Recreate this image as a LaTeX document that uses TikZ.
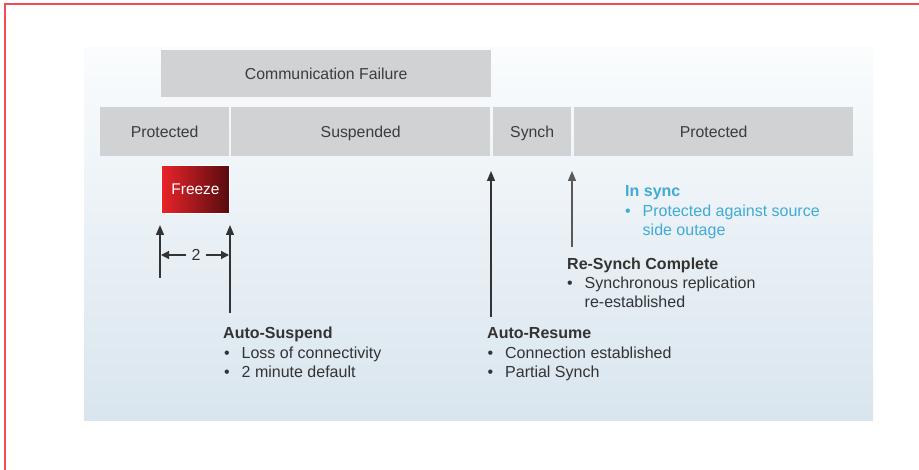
\documentclass[tikz,border=0pt]{standalone}
\usepackage{fontspec}
\setmainfont{Liberation Sans}
\usetikzlibrary{arrows.meta}
\definecolor{cellgray}{HTML}{D1D2D4}
\definecolor{celltext}{HTML}{3C3C3C}
\definecolor{bodytext}{HTML}{333333}
\definecolor{syncblue}{HTML}{3FABD6}
\definecolor{frameRed}{HTML}{F04E52}
\definecolor{panelTop}{HTML}{FAFCFD}
\definecolor{panelBot}{HTML}{D9E5EE}
\definecolor{freezeL}{HTML}{E9242A}
\definecolor{freezeR}{HTML}{560B0F}
\definecolor{arrowGray}{HTML}{333333}
\tikzset{
  txt/.style={inner sep=0pt, anchor=base west, text=bodytext, font=\fontsize{16}{19}\selectfont},
  head/.style={txt, font=\fontsize{16}{19}\selectfont\bfseries},
  cell/.style={fill=cellgray, draw=none, inner sep=0pt, anchor=north west, text=celltext,
    font=\fontsize{15.8}{18}\selectfont, text height=11pt, text depth=0pt},
  arr/.style={draw=arrowGray, line width=1.3pt, -{Triangle[width=8pt,length=10pt]}},
  smallarr/.style={draw=arrowGray, line width=1.2pt, -{Triangle[width=8pt,length=8pt]}}
}
\newcommand{\bult}{\makebox[17.5pt][l]{•}}
\begin{document}
\begin{tikzpicture}[x=1pt,y=-1pt]
\useasboundingbox (0,0) rectangle (919,470);
\fill[white] (0,0) rectangle (919,470);
% red frame
\draw[frameRed, line width=1.2pt] (5,470) -- (5,4) -- (919,4);
% panel
\shade[top color=panelTop, bottom color=panelBot] (84,48) rectangle (873,421);
% header
\node[cell, minimum width=330pt, minimum height=47pt] (cf) at (161,50) {Communication Failure};
% state row
\node[cell, minimum width=129pt, minimum height=49pt] (p1) at (100,107) {Protected};
\node[cell, minimum width=259pt, minimum height=49pt] (susp) at (231,107) {Suspended};
\node[cell, minimum width=78pt, minimum height=49pt] (syn) at (493,107) {Synch};
\node[cell, minimum width=279pt, minimum height=49pt] (p2) at (574,107) {Protected};
% freeze
\node[draw=white, line width=1pt, left color=freezeL, right color=freezeR, anchor=north west,
  minimum width=68pt, minimum height=48pt, inner sep=0pt, text=white,
  font=\fontsize{15.5}{18}\selectfont, text height=11pt, text depth=0pt] (frz) at (161,165) {Freeze};
% arrows
\coordinate (a1s) at (160,278); \coordinate (a1e) at (160,225);
\coordinate (a2s) at (230,313); \coordinate (a2e) at (230,225);
\coordinate (a3s) at (491,317); \coordinate (a3e) at (491,171);
\coordinate (a4s) at (572,247); \coordinate (a4e) at (572,171);
\draw[arr] (a1s) -- (a1e);
\draw[arr] (a2s) -- (a2e);
\draw[arr] (a3s) -- (a3e);
\draw[arr, draw=black!65] (a4s) -- (a4e);
% dimension
\node[inner sep=0pt, text=bodytext, font=\fontsize{16}{19}\selectfont, text height=11pt, text depth=0pt] (two) at (196,255) {2};
\coordinate (dL) at (161,255); \coordinate (dR) at (229,255);
\draw[smallarr] ([xshift=-5pt]two.west) -- (dL);
\draw[smallarr] ([xshift=5pt]two.east) -- (dR);
% In sync
\node[head, text=syncblue] (insync) at (625,196.5) {In sync};
\node[txt, text=syncblue] (is1) at (625,216.5) {\bult Protected against source};
\node[txt, text=syncblue] (is2) at (642.5,235.5) {side outage};
% Re-Synch Complete
\node[head] (rsc) at (567,269.5) {Re-Synch Complete};
\node[txt] (rsc1) at (567,288.5) {\bult Synchronous replication};
\node[txt] (rsc2) at (584.5,307.5) {re-established};
% Auto-Suspend
\node[head] (as) at (223,338.5) {Auto-Suspend};
\node[txt] (as1) at (224,358.5) {\bult Loss of connectivity};
\node[txt] (as2) at (224,377.5) {\bult 2 minute default};
% Auto-Resume
\node[head] (ar) at (487,338.5) {Auto-Resume};
\node[txt] (ar1) at (487.5,358.5) {\bult Connection established};
\node[txt] (ar2) at (487.5,377.5) {\bult Partial Synch};
\end{tikzpicture}
\end{document}
